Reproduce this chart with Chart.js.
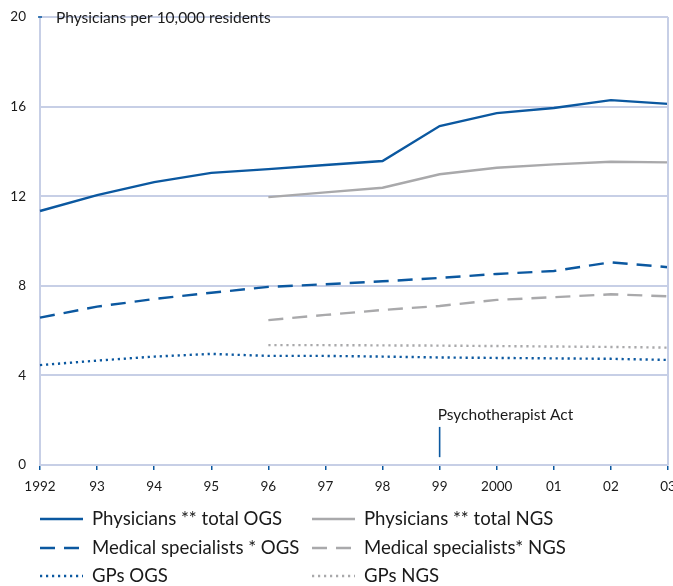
<!DOCTYPE html>
<html>
<head>
<meta charset="utf-8">
<script src="https://cdn.jsdelivr.net/npm/chart.js@4/dist/chart.umd.min.js"></script>
<style>
html,body{margin:0;padding:0;background:#fff;}
#wrap{width:673px;height:586px;position:relative;}
</style>
</head>
<body>
<div id="wrap"><canvas id="c" width="673" height="586"></canvas></div>
<script>
const years = ['1992','93','94','95','96','97','98','99','2000','01','02','03'];
const yTicks = [0,4,8,12,16,20];
const physOGS = [11.34,12.05,12.63,13.04,13.21,13.39,13.57,15.13,15.71,15.94,16.29,16.12];
const physNGS = [null,null,null,null,11.96,12.17,12.38,12.98,13.27,13.42,13.54,13.51];
const specOGS = [6.58,7.07,7.41,7.69,7.95,8.07,8.20,8.35,8.53,8.66,9.05,8.83];
const specNGS = [null,null,null,null,6.47,6.70,6.92,7.10,7.37,7.49,7.62,7.53];
const gpOGS = [4.46,4.66,4.84,4.96,4.87,4.87,4.84,4.80,4.78,4.76,4.74,4.69];
const gpNGS = [null,null,null,null,5.35,5.35,5.34,5.33,5.31,5.29,5.27,5.24];
const seriesNames = ['Physicians ** total OGS','Physicians ** total NGS','Medical specialists * OGS','Medical specialists* NGS','GPs OGS','GPs NGS'];
const yTitle = 'Physicians per 10,000 residents';
const annotationLabel = 'Psychotherapist Act';
const annotationYear = '99';

const BLUE = '#0b58a0';
const GREY = '#a9a9ab';
const GRID = '#c7cfe6';
const FONT = 'Lato, "Open Sans", sans-serif';
const DASH = [15, 9];
const DOT = [2.2, 3.8];

function ds(label, data, color, dash){
  return {label, data, borderColor: color, backgroundColor: color, borderWidth: 2.4,
    borderDash: dash, pointRadius: 0, tension: 0, spanGaps: false, fill: false};
}

const extras = {
  id: 'extras',
  afterDraw(chart){
    const ctx = chart.ctx;
    const xs = chart.scales.x, ys = chart.scales.y;
    const a = chart.chartArea;
    ctx.save();
    ctx.strokeStyle = GRID; ctx.lineWidth = 2; ctx.setLineDash([]);
    ctx.beginPath(); ctx.moveTo(a.right, a.top); ctx.lineTo(a.right, a.bottom); ctx.stroke();
    ctx.strokeStyle = BLUE; ctx.lineWidth = 1.5;
    ctx.beginPath(); ctx.moveTo(a.left - 2, ys.getPixelForValue(20)); ctx.lineTo(a.left + 2, ys.getPixelForValue(20)); ctx.stroke();
    ctx.fillStyle = '#1a1a1a';
    ctx.font = '15.5px ' + FONT;
    ctx.textBaseline = 'middle'; ctx.textAlign = 'left';
    ctx.fillText(yTitle, a.left + 16, ys.getPixelForValue(20) + 1);
    const ax = xs.getPixelForValue(years.indexOf(annotationYear));
    ctx.strokeStyle = BLUE; ctx.lineWidth = 1.6;
    ctx.beginPath(); ctx.moveTo(ax, ys.getPixelForValue(0.35)); ctx.lineTo(ax, ys.getPixelForValue(1.7)); ctx.stroke();
    ctx.fillStyle = '#1a1a1a';
    ctx.font = '15.5px ' + FONT;
    ctx.textBaseline = 'alphabetic';
    ctx.fillText(annotationLabel, ax - 2, ys.getPixelForValue(2.0));
    const dsets = chart.data.datasets;
    const colX = [a.left, a.left + 272];
    const rowY = [519, 548, 576];
    ctx.font = '18.6px ' + FONT;
    ctx.textBaseline = 'middle';
    dsets.forEach((d, k) => {
      const cx = colX[k % 2], cy = rowY[Math.floor(k / 2)];
      ctx.strokeStyle = d.borderColor; ctx.lineWidth = 2.4;
      ctx.setLineDash(d.borderDash || []);
      ctx.beginPath(); ctx.moveTo(cx, cy); ctx.lineTo(cx + 43, cy); ctx.stroke();
      ctx.setLineDash([]);
      ctx.fillStyle = '#1a1a1a';
      ctx.fillText(d.label, cx + 52, cy);
    });
    ctx.restore();
  }
};

new Chart(document.getElementById('c'), {
  type: 'line',
  data: {
    labels: years,
    datasets: [
      ds(seriesNames[0], physOGS, BLUE, []),
      ds(seriesNames[1], physNGS, GREY, []),
      ds(seriesNames[2], specOGS, BLUE, DASH),
      ds(seriesNames[3], specNGS, GREY, DASH),
      ds(seriesNames[4], gpOGS, BLUE, DOT),
      ds(seriesNames[5], gpNGS, GREY, DOT)
    ]
  },
  options: {
    responsive: false,
    animation: false,
    devicePixelRatio: 1,
    layout: {autoPadding: false, padding: {top: 17, right: 5, bottom: 90, left: 0}},
    plugins: {legend: {display: false}, tooltip: {enabled: false}},
    scales: {
      x: {
        type: 'category',
        offset: false,
        afterFit(s){ s.height = 31; s.paddingLeft = 0; s.paddingRight = 0; },
        grid: {display: true, drawOnChartArea: false, drawTicks: true, tickLength: 5, color: BLUE, lineWidth: 1.5},
        border: {display: true, color: GRID, width: 2},
        ticks: {color: '#1a1a1a', font: {family: FONT, size: 13.5}, padding: 9, maxRotation: 0, autoSkip: false}
      },
      y: {
        min: 0, max: 20,
        afterFit(s){ s.width = 40; s.paddingTop = 0; s.paddingBottom = 0; },
        afterBuildTicks(s){ s.ticks = yTicks.map(v => ({value: v})); },
        grid: {display: true, color: GRID, lineWidth: 2, drawTicks: false},
        border: {display: true, color: GRID, width: 2},
        ticks: {color: '#1a1a1a', font: {family: FONT, size: 13.5}, padding: 14}
      }
    }
  },
  plugins: [extras]
});
</script>
</body>
</html>
